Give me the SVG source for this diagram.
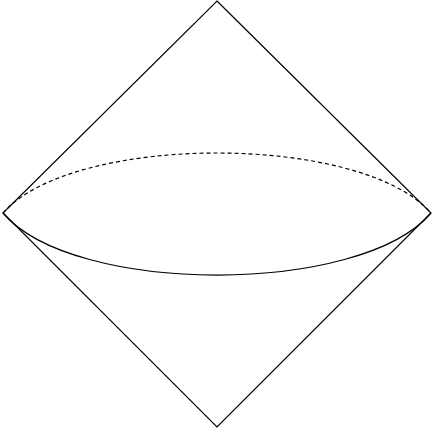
<svg xmlns="http://www.w3.org/2000/svg" width="434" height="429" viewBox="0 0 434 429">
<style>
.ln{fill:none;stroke:#000;stroke-width:1.2}
.dash{stroke-dasharray:4,3}
</style>
<rect width="434" height="429" fill="#fff"/>
<g id="diamond">
<path class="ln" d="M217,1 L431,213 L217,427 L3,213 Z"/>
</g>
<g id="connectors">
<path class="ln dash" d="M3,213 C73,133 361,133 431,213"/>
<path class="ln" d="M3,213 C73,295.7 361,295.7 431,213"/>
</g>
</svg>
